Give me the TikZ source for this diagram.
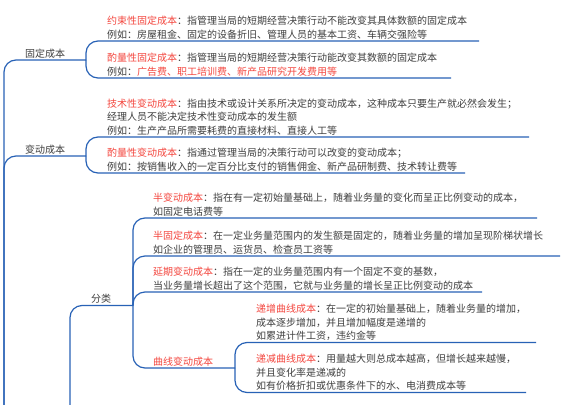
\documentclass[tikz,border=0pt]{standalone}
\usepackage{fontspec}
\setmainfont{Noto Sans CJK SC}
\definecolor{lnblue}{HTML}{2862B6}
\definecolor{txtred}{HTML}{F4473F}
\definecolor{txtgray}{HTML}{404040}
\newcommand{\rd}[1]{\textcolor{txtred}{#1}}
\newcommand{\ml}[1]{\begin{tabular}[t]{@{}l@{}}#1\end{tabular}}
\tikzset{
  topic/.style={anchor=base west, inner sep=0pt, outer sep=0pt, text=txtgray,
    font=\fontsize{10}{13.5}\selectfont},
  link/.style={draw=lnblue, line width=1.2pt, rounded corners=12pt},
}
\begin{document}
\begin{tikzpicture}[x=1pt,y=-1pt]
\useasboundingbox (0,0) rectangle (572,404);
\fill[white] (0,0) rectangle (572,404);

% main topics
\node[topic] (fc) at (25,57) {固定成本};
\node[topic] (bd) at (25,153) {变动成本};
\node[topic] (fl) at (91,302.5) {分类};

% subtopics
\node[topic] (c1) at (107,24.5) {\ml{\rd{约束性固定成本}：指管理当局的短期经营决策行动不能改变其具体数额的固定成本\\例如：房屋租金、固定的设备折旧、管理人员的基本工资、车辆交强险等}};
\node[topic] (c2) at (107,61.5) {\ml{\rd{酌量性固定成本}：指管理当局的短期经营决策行动能改变其数额的固定成本\\例如：\rd{广告费、职工培训费、新产品研究开发费用等}}};
\node[topic] (c3) at (107,107) {\ml{\rd{技术性变动成本}：指由技术或设计关系所决定的变动成本，这种成本只要生产就必然会发生；\\经理人员不能决定技术性变动成本的发生额\\例如：生产产品所需要耗费的直接材料、直接人工等}};
\node[topic] (c4) at (107,156.5) {\ml{\rd{酌量性变动成本}：指通过管理当局的决策行动可以改变的变动成本；\\例如：按销售收入的一定百分比支付的销售佣金、新产品研制费、技术转让费等}};
\node[topic] (c5) at (153,201.5) {\ml{\rd{半变动成本}：指在有一定初始量基础上，随着业务量的变化而呈正比例变动的成本，\\如固定电话费等}};
\node[topic] (c6) at (153,239.5) {\ml{\rd{半固定成本}：在一定业务量范围内的发生额是固定的，随着业务量的增加呈现阶梯状增长\\如企业的管理员、运货员、检查员工资等}};
\node[topic] (c7) at (153,275.5) {\ml{\rd{延期变动成本}：指在一定的业务量范围内有一个固定不变的基数，\\当业务量增长超出了这个范围，它就与业务量的增长呈正比例变动的成本}};
\node[topic] (c8) at (153,365) {\rd{曲线变动成本}};
\node[topic] (c9) at (256,312.5) {\ml{\rd{递增曲线成本}：在一定的初始量基础上，随着业务量的增加，\\成本逐步增加，并且增加幅度是递增的\\如累进计件工资，违约金等}};
\node[topic] (c10) at (256,362.5) {\ml{\rd{递减曲线成本}：用量越大则总成本越高，但增长越来越慢，\\并且变化率是递减的\\如有价格折扣或优惠条件下的水、电消费成本等}};

% junctions and underline ends
\coordinate (rootB) at (4,405);
\coordinate (fcJ) at (86,60);
\coordinate (bdJ) at (86,156);
\coordinate (flB) at (70,405);
\coordinate (flJ) at (133,305.5);
\coordinate (c8J) at (235,368);
\coordinate (c1E) at (479,41);
\coordinate (c2E) at (451,78);
\coordinate (c3E) at (529,137);
\coordinate (c4E) at (465,173);
\coordinate (c5E) at (537,218);
\coordinate (c6E) at (560,256);
\coordinate (c7E) at (482,292);
\coordinate (c9E) at (536,342.5);
\coordinate (c10E) at (526,392.5);

% connectors
\draw[link] (rootB) |- (fcJ);
\draw[link] (rootB) |- (bdJ);
\draw[link] (fcJ) |- (c1E);
\draw[link] (fcJ) |- (c2E);
\draw[link] (bdJ) |- (c3E);
\draw[link] (bdJ) |- (c4E);
\draw[link] (flB) |- (flJ);
\draw[link] (flJ) |- (c5E);
\draw[link] (flJ) |- (c6E);
\draw[link] (flJ) |- (c7E);
\draw[link] (flJ) |- (c8J);
\draw[link] (c8J) |- (c9E);
\draw[link] (c8J) |- (c10E);
\end{tikzpicture}
\end{document}
